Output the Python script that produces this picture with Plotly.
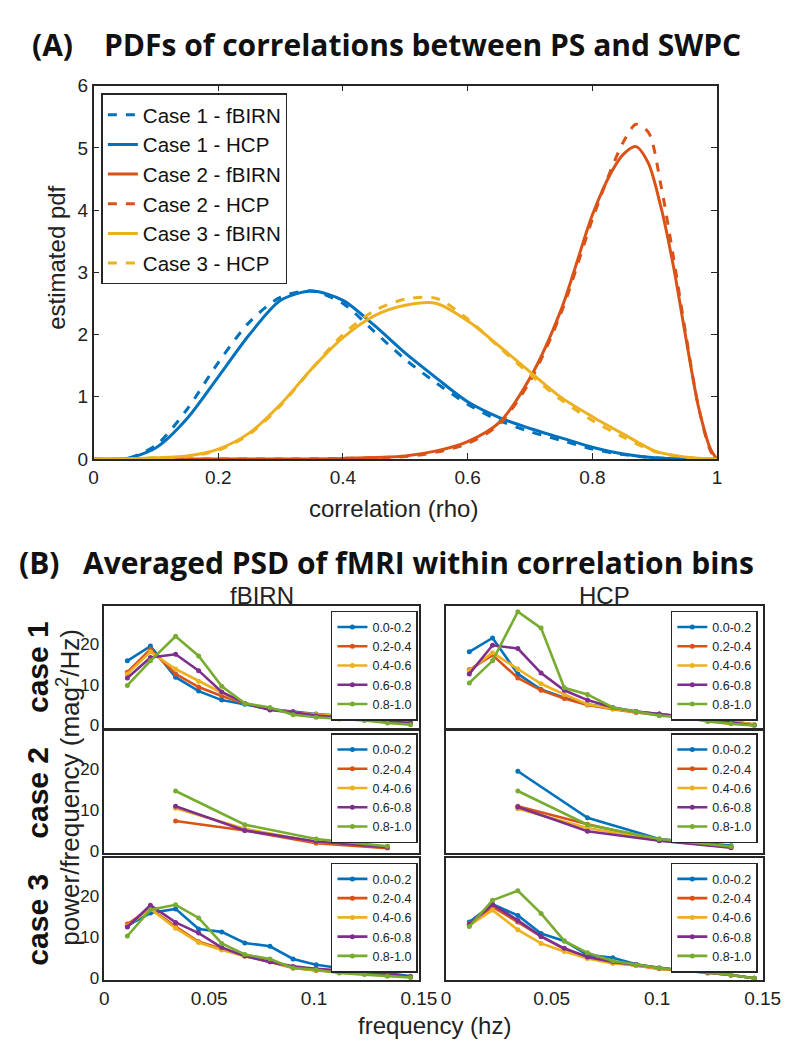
import plotly.graph_objects as go

W, H = 795, 1050

# ---------------- Panel A data: estimated pdfs ----------------
rho = [0.00, 0.05, 0.10, 0.15, 0.20, 0.25, 0.30, 0.35, 0.40, 0.45, 0.50,
       0.55, 0.60, 0.65, 0.70, 0.75, 0.80, 0.85, 0.90, 0.95, 1.00]
case1_fbirn = [0, 0.0, 0.22, 0.80, 1.55, 2.20, 2.60, 2.70, 2.50, 2.05, 1.60,
               1.22, 0.88, 0.62, 0.44, 0.30, 0.16, 0.07, 0.02, 0.0, 0]
case1_hcp = [0, 0.0, 0.18, 0.65, 1.32, 2.00, 2.55, 2.70, 2.55, 2.15, 1.70,
             1.30, 0.92, 0.67, 0.49, 0.34, 0.19, 0.08, 0.02, 0.0, 0]
case3_fbirn = [0, 0.0, 0.02, 0.05, 0.16, 0.42, 0.88, 1.45, 1.95, 2.30, 2.47,
               2.50, 2.22, 1.82, 1.40, 0.99, 0.68, 0.40, 0.13, 0.03, 0]
case3_hcp = [0, 0.0, 0.02, 0.04, 0.14, 0.40, 0.86, 1.45, 2.00, 2.38, 2.57,
             2.58, 2.25, 1.80, 1.36, 0.95, 0.62, 0.35, 0.12, 0.03, 0]
rho_case2 = [0.00, 0.30, 0.40, 0.50, 0.55, 0.60, 0.65, 0.70, 0.75, 0.80,
             0.83, 0.85, 0.87, 0.89, 0.91, 0.93, 0.95, 0.97, 0.99, 1.00]
case2_fbirn = [0, 0.0, 0.01, 0.05, 0.13, 0.28, 0.58, 1.30, 2.40, 3.92,
               4.60, 4.90, 5.02, 4.75, 4.05, 3.10, 1.95, 0.85, 0.15, 0]
case2_hcp = [0, 0.0, 0.01, 0.04, 0.11, 0.25, 0.55, 1.25, 2.35, 3.85,
             4.65, 5.10, 5.38, 5.25, 4.40, 3.25, 2.00, 0.85, 0.12, 0]

# ---------------- Panel B data: averaged PSD ----------------
freqs = [0.011, 0.022, 0.034, 0.045, 0.056, 0.067, 0.079, 0.090, 0.101,
         0.112, 0.124, 0.135, 0.146]
freqs_case2 = [0.034, 0.067, 0.101, 0.135]
bins = ["0.0-0.2", "0.2-0.4", "0.4-0.6", "0.6-0.8", "0.8-1.0"]

fbirn_case1 = [
    [15.8, 19.4, 11.8, 8.4, 6.2, 5.2, 4.0, 3.4, 2.8, 2.4, 2.0, 1.2, 0.6],
    [13.0, 18.6, 12.6, 9.4, 7.2, 5.4, 4.0, 3.2, 2.6, 2.2, 1.8, 1.2, 0.8],
    [12.6, 18.0, 13.8, 10.8, 8.0, 5.4, 4.0, 3.1, 2.7, 2.3, 1.9, 1.3, 0.9],
    [11.6, 16.6, 17.4, 13.4, 8.2, 5.4, 3.8, 3.2, 2.4, 2.0, 1.6, 1.0, 0.6],
    [9.8, 15.8, 21.8, 17.0, 9.6, 5.4, 4.4, 2.6, 2.0, 1.6, 1.2, 0.6, 0.2],
]
hcp_case1 = [
    [18.0, 21.4, 12.6, 8.8, 6.8, 5.2, 4.2, 3.4, 2.8, 2.2, 1.6, 1.0, 0.2],
    [13.6, 17.2, 11.6, 8.6, 6.6, 5.0, 4.0, 3.2, 2.6, 2.2, 1.6, 1.0, 0.2],
    [13.4, 17.8, 13.8, 10.2, 7.6, 5.2, 4.1, 3.3, 2.7, 2.2, 1.6, 1.0, 0.2],
    [12.6, 19.6, 18.8, 12.8, 8.6, 6.2, 4.4, 3.4, 2.8, 2.2, 1.4, 0.8, 0.0],
    [10.4, 15.8, 27.8, 23.8, 9.2, 7.6, 4.4, 3.4, 2.4, 2.0, 1.0, 0.4, 0.0],
]
fbirn_case2 = [
    [None, None, None, None],
    [7.4, 5.1, 2.0, 0.8],
    [10.5, 5.5, 2.3, 1.2],
    [11.0, 5.1, 2.4, 1.0],
    [14.7, 6.5, 3.0, 1.25],
]
hcp_case2 = [
    [19.5, 8.2, 3.0, 1.4],
    [11.0, 6.6, 2.7, 1.0],
    [10.4, 5.7, 2.7, 1.0],
    [10.8, 4.9, 2.6, 0.9],
    [14.7, 6.5, 3.0, 1.2],
]
fbirn_case3 = [
    [12.8, 15.9, 16.9, 12.0, 11.3, 8.6, 7.8, 4.7, 3.3, 2.5, 1.9, 1.3, 0.5],
    [13.2, 17.0, 12.6, 8.9, 7.2, 5.4, 4.0, 2.5, 1.9, 1.5, 1.2, 0.7, 0.3],
    [12.8, 16.9, 12.2, 8.7, 6.9, 5.4, 4.2, 2.5, 2.0, 1.6, 1.2, 0.8, 0.3],
    [12.5, 17.8, 13.6, 11.0, 7.5, 5.4, 4.0, 2.9, 2.3, 1.9, 1.5, 0.9, 0.4],
    [10.3, 16.7, 17.9, 14.7, 8.5, 5.8, 4.7, 2.5, 2.1, 1.3, 0.9, 0.5, 0.2],
]
hcp_case3 = [
    [13.7, 18.0, 15.3, 10.9, 9.1, 5.7, 5.0, 3.4, 2.5, 1.9, 1.4, 0.8, 0.0],
    [13.3, 17.4, 13.7, 10.2, 7.1, 5.2, 3.9, 3.1, 2.3, 1.9, 1.3, 0.8, 0.0],
    [12.9, 16.6, 11.8, 8.5, 6.5, 4.8, 3.6, 3.1, 2.4, 1.9, 1.3, 0.8, 0.0],
    [13.1, 18.0, 14.1, 10.2, 7.3, 5.2, 4.0, 3.3, 2.5, 1.9, 1.4, 0.8, 0.0],
    [12.6, 19.0, 21.3, 15.8, 9.1, 6.2, 4.2, 3.3, 2.5, 1.9, 1.5, 0.8, 0.0],
]

# ---------------- styling ----------------
BLUE, ORANGE, YELLOW, PURPLE, GREEN = "#0072BD", "#D95319", "#EDB120", "#7E2F8E", "#77AC30"
bin_colors = [BLUE, ORANGE, YELLOW, PURPLE, GREEN]
AX = "#262626"
TICKFONT = "Liberation Sans, Arial, sans-serif"
TITLEFONT = "Open Sans, Lato, sans-serif"


def px_x(p):
    return p / W


def px_y(p):
    return 1 - p / H


fig = go.Figure()

# ---- Panel A traces ----
pdf_series = [
    ("Case 1 - fBIRN", rho, case1_fbirn, BLUE, "dash"),
    ("Case 1 - HCP", rho, case1_hcp, BLUE, "solid"),
    ("Case 2 - fBIRN", rho_case2, case2_fbirn, ORANGE, "solid"),
    ("Case 2 - HCP", rho_case2, case2_hcp, ORANGE, "dash"),
    ("Case 3 - fBIRN", rho, case3_fbirn, YELLOW, "solid"),
    ("Case 3 - HCP", rho, case3_hcp, YELLOW, "dash"),
]
for name, xs, ys, col, dash in pdf_series:
    fig.add_trace(go.Scatter(
        x=xs, y=ys, name=name, mode="lines",
        line=dict(color=col, width=3, dash=dash, shape="spline", smoothing=0.8),
        xaxis="x", yaxis="y", legend="legend",
    ))

# ---- Panel B traces ----
panels = [
    (1, 1, freqs, fbirn_case1), (1, 2, freqs, hcp_case1),
    (2, 1, freqs_case2, fbirn_case2), (2, 2, freqs_case2, hcp_case2),
    (3, 1, freqs, fbirn_case3), (3, 2, freqs, hcp_case3),
]
row_px = {1: (600, 724), 2: (728, 852.5), 3: (857.5, 982)}
col_px = {1: (94, 418), 2: (446, 772)}
legend_top = {1: 605, 2: 730, 3: 862}

layout_extra = {}
for (r, c, fx, series) in panels:
    n = 2 + (r - 1) * 2 + (c - 1)
    xa, ya = f"x{n}", f"y{n}"
    lg = f"legend{n}"
    for k in range(5):
        fig.add_trace(go.Scatter(
            x=fx, y=series[k], name=bins[k], mode="lines+markers",
            line=dict(color=bin_colors[k], width=2.6),
            marker=dict(color=bin_colors[k], size=5),
            xaxis=xa, yaxis=ya, legend=lg,
        ))
    x0, x1 = col_px[c]
    y0, y1 = row_px[r]
    layout_extra[f"xaxis{n}"] = dict(
        domain=[px_x(x0), px_x(x1)], anchor=ya, range=[0, 0.15],
        showgrid=False, zeroline=False, showline=True, linecolor=AX,
        linewidth=1.5, mirror=True, ticks="",
        tickvals=[0, 0.05, 0.1, 0.15], ticktext=["0", "0.05", "0.1", "0.15"],
        showticklabels=(r == 3),
        tickfont=dict(family=TICKFONT, size=19, color="#222"),
    )
    layout_extra[f"yaxis{n}"] = dict(
        domain=[px_y(y1), px_y(y0)], anchor=xa, range=[-0.5, 29.2],
        showgrid=False, zeroline=False, showline=True, linecolor=AX,
        linewidth=1.5, mirror=True, ticks="",
        tickvals=[0, 10, 20], showticklabels=(c == 1),
        tickfont=dict(family=TICKFONT, size=17, color="#222"),
    )
    lx = 417 if c == 1 else 767
    layout_extra[lg] = dict(
        x=px_x(lx), y=px_y(legend_top[r]), xanchor="right", yanchor="top",
        xref="paper", yref="paper",
        bgcolor="white", bordercolor=AX, borderwidth=1.5,
        font=dict(family=TICKFONT, size=12.5, color="#222"),
        itemwidth=30, tracegroupgap=0,
    )

annotations = []


def ann(text, x, y, size, family, bold=False, angle=0, xanchor="center", color="#111"):
    annotations.append(dict(
        text=f"<b>{text}</b>" if bold else text,
        x=px_x(x), y=px_y(y), xref="paper", yref="paper",
        xanchor=xanchor, yanchor="middle", showarrow=False, textangle=angle,
        font=dict(family=family, size=size, color=color),
    ))


ann("(A)", 18, 27, 30, TITLEFONT, bold=True, xanchor="left")
ann("PDFs of correlations between PS and SWPC", 92, 27, 30, TITLEFONT, bold=True, xanchor="left")
ann("(B)", 4, 556, 30, TITLEFONT, bold=True, xanchor="left")
ann("Averaged PSD of fMRI within correlation bins", 70, 556, 30, TITLEFONT, bold=True, xanchor="left")
ann("correlation (rho)", 392, 500, 24, TICKFONT, color="#222")
ann("estimated pdf", 44, 245, 24, TICKFONT, angle=-90, color="#222")
ann("fBIRN", 256, 589, 24, TICKFONT, color="#222")
ann("HCP", 609, 589, 24, TICKFONT, color="#222")
for r, lab in zip([1, 2, 3], ["case 1", "case 2", "case 3"]):
    y0, y1 = row_px[r]
    ann(lab, 25, (y0 + y1) / 2, 30, TICKFONT, bold=True, angle=-90)
ann("power/frequency (mag<sup>2</sup>/Hz)", 57, 785, 26, TICKFONT, angle=-90, color="#222")
ann("frequency (hz)", 434, 1028, 24, TICKFONT, color="#222")

fig.update_layout(
    width=W, height=H, margin=dict(l=0, r=0, t=0, b=0),
    paper_bgcolor="white", plot_bgcolor="white",
    xaxis=dict(
        domain=[px_x(83), px_x(725)], anchor="y", range=[0, 1],
        showgrid=False, zeroline=False, showline=True, linecolor=AX,
        linewidth=1.5, mirror="ticks", ticks="inside", ticklen=6,
        tickcolor=AX, tickwidth=1.2,
        tickvals=[0, 0.2, 0.4, 0.6, 0.8, 1], ticktext=["0", "0.2", "0.4", "0.6", "0.8", "1"],
        tickfont=dict(family=TICKFONT, size=19, color="#222"),
    ),
    yaxis=dict(
        domain=[px_y(450), px_y(69)], anchor="x", range=[0, 6],
        showgrid=False, zeroline=False, showline=True, linecolor=AX,
        linewidth=1.5, mirror="ticks", ticks="inside", ticklen=6,
        tickcolor=AX, tickwidth=1.2, tickvals=[0, 1, 2, 3, 4, 5, 6],
        tickfont=dict(family=TICKFONT, size=19, color="#222"),
    ),
    legend=dict(
        x=px_x(91), y=px_y(77), xanchor="left", yanchor="top",
        bgcolor="white", bordercolor=AX, borderwidth=1.5,
        font=dict(family=TICKFONT, size=20.5, color="#111"),
        itemwidth=30, tracegroupgap=0,
    ),
    annotations=annotations,
    **layout_extra,
)

fig.write_html("out.html")
